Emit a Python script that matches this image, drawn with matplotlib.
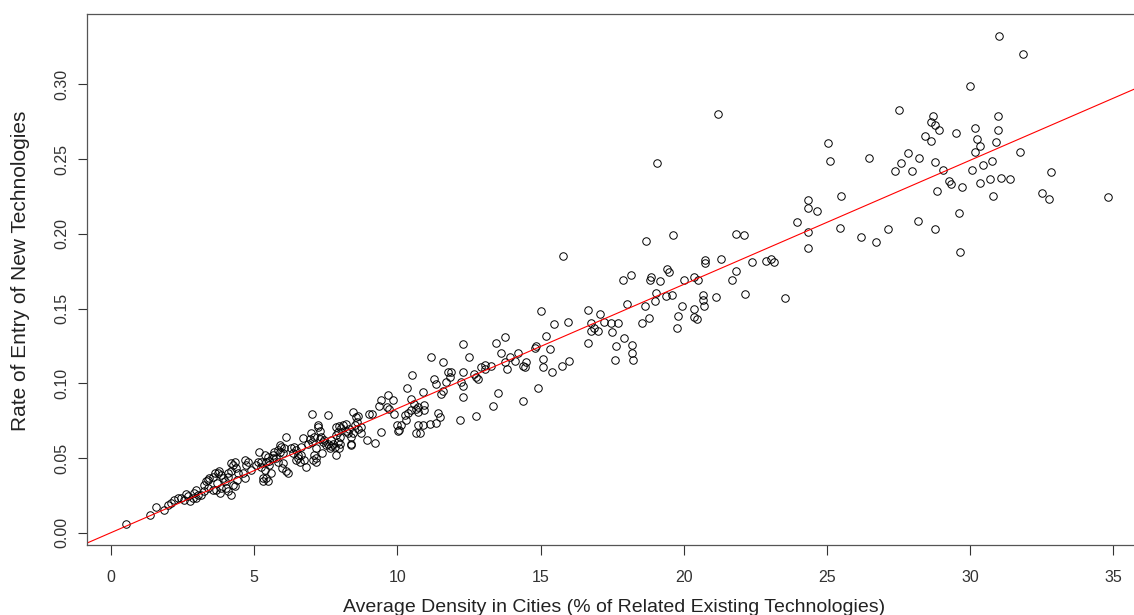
import numpy as np
import matplotlib
matplotlib.use("Agg")
import matplotlib.pyplot as plt

plt.rcParams['font.family'] = ['Liberation Sans', 'DejaVu Sans']

# density (% of related existing technologies) and entry rate
density = [
    0.51, 1.35, 1.56, 1.86, 1.98, 2.1, 2.21, 2.33, 2.45, 2.56, 2.63, 2.68, 2.74, 2.85, 2.91, 2.97, 2.98,
    3.03, 3.14, 3.26, 3.26, 3.32, 3.39, 3.39, 3.43, 3.55, 3.55, 3.61, 3.67, 3.68, 3.73, 3.78, 3.8, 3.84,
    3.84, 3.9, 3.96, 4.02, 4.07, 4.07, 4.09, 4.19, 4.19, 4.2, 4.25, 4.26, 4.31, 4.32, 4.37, 4.38, 4.42,
    4.6, 4.66, 4.66, 4.72, 4.77, 4.89, 5.06, 5.12, 5.18, 5.24, 5.24, 5.3, 5.3, 5.36, 5.36, 5.41, 5.41,
    5.47, 5.47, 5.53, 5.53, 5.6, 5.65, 5.65, 5.7, 5.76, 5.82, 5.82, 5.88, 5.88, 5.94, 5.95, 6.0, 6.0,
    6.05, 6.11, 6.11, 6.17, 6.29, 6.35, 6.4, 6.46, 6.46, 6.52, 6.52, 6.58, 6.64, 6.64, 6.7, 6.75, 6.81,
    6.87, 6.93, 6.99, 7.01, 7.01, 7.05, 7.1, 7.1,
    7.16, 7.16, 7.16, 7.22, 7.24, 7.28, 7.31, 7.33, 7.36, 7.39, 7.45, 7.51, 7.59, 7.59, 7.63, 7.68, 7.68,
    7.74, 7.82, 7.86, 7.86, 7.87, 7.92, 7.92, 7.97, 7.97, 7.98, 8.01, 8.09, 8.03, 8.21, 8.21, 8.27, 8.32,
    8.38, 8.38, 8.38, 8.44, 8.44, 8.5, 8.56, 8.59, 8.62, 8.62, 8.71, 8.73, 8.94, 9.02, 9.1, 9.22,
    9.34, 9.43, 9.43, 9.66, 9.64, 9.72, 9.84, 9.87, 9.99, 10.07, 10.01, 10.13, 10.3, 10.27, 10.36, 10.34,
    10.48, 10.48, 10.51, 10.59, 10.65, 10.71, 10.71, 10.65, 10.77, 10.71, 10.89, 10.89, 10.94, 10.94,
    11.12, 11.35, 11.47, 11.41, 11.18, 11.29, 11.35, 11.53, 11.59, 11.59, 11.7, 11.76, 11.82, 11.88,
    12.22, 12.28, 12.28, 12.28, 12.28, 12.51, 12.69, 12.75, 12.83, 12.92, 13.04, 13.27, 13.04, 12.75,
    12.17, 13.5, 13.33, 13.45, 13.74, 13.6, 13.74, 13.83, 13.92, 14.09, 14.2, 14.38, 14.44, 14.5, 14.39,
    14.79, 14.85, 14.92, 15.0, 15.08, 15.1, 15.18, 15.33, 15.39, 15.48, 15.74, 15.78, 15.95, 15.99,
    16.65, 16.66, 16.77, 16.88, 17.0, 16.77, 17.06, 17.23, 17.46, 17.72, 17.49, 17.9, 17.64, 18.19,
    18.19, 17.6, 18.22, 18.03, 18.63, 18.8, 18.55, 17.89, 18.17,
    18.69, 18.86, 18.83, 19.18, 19.4, 19.48, 19.06, 19.04, 19.0, 19.38, 19.59, 19.64, 19.93, 19.79,
    19.76, 20.02, 20.35, 20.51, 20.37, 20.37, 20.47, 20.66, 20.66, 20.69, 20.75, 20.75, 21.13, 21.19,
    21.29, 21.68, 21.83, 21.82, 22.09, 22.14, 22.39, 22.86, 23.03, 23.14, 23.53, 23.95,
    24.33, 24.33, 24.64, 24.33, 24.33, 25.05, 25.09, 25.49, 25.46, 26.2, 26.48, 26.72, 27.12, 27.36,
    27.5, 27.57, 27.84, 27.97, 28.17, 28.21, 28.44, 28.64, 28.64, 28.7, 28.76, 28.78, 28.79, 28.84,
    28.9, 29.05, 29.28, 29.34, 29.5, 29.62, 29.64, 29.73, 30.0, 30.06, 30.18, 30.18, 30.24, 30.33,
    30.36, 30.45, 30.68, 30.76, 30.8, 30.91, 30.97, 30.97, 31.0, 31.09, 31.38, 31.73, 31.85, 32.51,
    32.77, 32.81, 34.8,
]
entry_rate = [
    0.006, 0.0117, 0.017, 0.0155, 0.0188, 0.0199, 0.0221, 0.0232, 0.0232, 0.0221, 0.0259, 0.0243, 0.021,
    0.0232, 0.0265, 0.0287, 0.0232, 0.0254, 0.0254, 0.0277, 0.0321, 0.0343, 0.0354, 0.0299, 0.0365,
    0.0376, 0.0287, 0.0398, 0.0287, 0.0332, 0.0398, 0.041, 0.0265, 0.0387, 0.0299, 0.0365, 0.0343,
    0.0299, 0.0376, 0.0277, 0.0398, 0.041, 0.0254, 0.0464, 0.0453, 0.0321, 0.0476, 0.031, 0.0431,
    0.0354, 0.0398,
    0.0398, 0.0365, 0.0487, 0.0453, 0.0476, 0.042, 0.0453, 0.0476, 0.0542, 0.0476, 0.0442, 0.0365,
    0.0343, 0.052, 0.042, 0.0476, 0.0365, 0.0347, 0.0509, 0.0453, 0.048, 0.0398, 0.052, 0.0498, 0.0542,
    0.0498, 0.0553, 0.0476, 0.0586, 0.0542, 0.0575, 0.0431, 0.0531, 0.0464, 0.0564, 0.041, 0.0642,
    0.0398, 0.0564, 0.0531, 0.0575, 0.0553, 0.0487, 0.0498, 0.052, 0.0476, 0.052, 0.0575, 0.0631,
    0.0487, 0.0438, 0.0591, 0.0626, 0.0664, 0.0604, 0.0792, 0.0487, 0.0642, 0.052,
    0.0476, 0.0564, 0.0498, 0.0708, 0.0719, 0.068, 0.063, 0.0642, 0.0531, 0.0608, 0.0619, 0.0586,
    0.0785, 0.0591, 0.0564, 0.0619, 0.0582, 0.0597, 0.0575, 0.0708, 0.052, 0.0652, 0.0675, 0.0604,
    0.0712, 0.0564, 0.0642, 0.0591, 0.0719, 0.0701, 0.073, 0.0679, 0.0668, 0.0697, 0.0642, 0.0597,
    0.0586, 0.0808, 0.0664, 0.0719, 0.0774, 0.0741, 0.0697, 0.0781, 0.0668, 0.0708, 0.0619, 0.0797,
    0.0797, 0.0602,
    0.0845, 0.0885, 0.0675, 0.0922, 0.0841, 0.083, 0.0889, 0.0797, 0.0719, 0.069, 0.0681, 0.0719,
    0.0752, 0.0785, 0.0801, 0.0967, 0.0896, 0.0818, 0.1055, 0.0863, 0.083, 0.0841, 0.0808, 0.067,
    0.0664, 0.0719, 0.0723, 0.094, 0.0852, 0.0818, 0.073, 0.0737, 0.0774, 0.0803, 0.1173, 0.1029,
    0.0995, 0.0929, 0.0951, 0.1139, 0.1011, 0.1073, 0.104, 0.1077, 0.1007, 0.0985, 0.1077, 0.0906,
    0.1261, 0.1179, 0.1062, 0.104, 0.1029, 0.1106, 0.1122, 0.1117, 0.1095, 0.0781, 0.0752, 0.0936,
    0.0847, 0.1272, 0.1312, 0.1201, 0.1139, 0.1095, 0.1173, 0.115, 0.1201, 0.1113, 0.1106, 0.1139,
    0.0881,
    0.1234, 0.125, 0.0971, 0.1486, 0.1161, 0.1106, 0.1314, 0.1228, 0.1077, 0.1398, 0.1117, 0.1851,
    0.1411, 0.1146, 0.1267, 0.1488, 0.1405, 0.1371, 0.1349, 0.1349, 0.146, 0.1409, 0.1405, 0.1405,
    0.134, 0.1303, 0.125, 0.1256, 0.1201, 0.1157, 0.1157, 0.1533, 0.1515, 0.1438, 0.1405, 0.1692,
    0.1725,
    0.1953, 0.171, 0.1688, 0.1686, 0.1763, 0.1741, 0.2471, 0.1604, 0.1553, 0.1581, 0.159, 0.1991,
    0.1515, 0.1447, 0.1369, 0.1688, 0.1714, 0.1692, 0.1498, 0.1445, 0.1431, 0.1588, 0.1559, 0.1515,
    0.1825, 0.1807, 0.1575, 0.2798, 0.1832, 0.1692, 0.175, 0.1997, 0.1993, 0.1597, 0.1809, 0.1818,
    0.1829, 0.1814, 0.157, 0.2081,
    0.2223, 0.2175, 0.215, 0.2013, 0.1902, 0.2608, 0.2488, 0.225, 0.2039, 0.1977, 0.2504, 0.1946,
    0.2029, 0.242, 0.2825, 0.2473, 0.2541, 0.2422, 0.2086, 0.2504, 0.2654, 0.2747, 0.2621, 0.2787,
    0.273, 0.2029, 0.2477, 0.2285, 0.2697, 0.2425, 0.2356, 0.2334, 0.2674, 0.2137, 0.1876, 0.2314,
    0.299, 0.2427, 0.2705, 0.2544, 0.2634, 0.2588, 0.2338, 0.246, 0.2369, 0.2486, 0.2254, 0.2617,
    0.2787, 0.2692, 0.3325, 0.2376, 0.2367, 0.255, 0.320, 0.2274, 0.2234, 0.2411, 0.2245,
]
x_ticks = [0, 5, 10, 15, 20, 25, 30, 35]
y_ticks = [0.0, 0.05, 0.10, 0.15, 0.20, 0.25, 0.30]
y_tick_labels = ['0.00', '0.05', '0.10', '0.15', '0.20', '0.25', '0.30']

x = np.array(density)
y = np.array(entry_rate)

fig = plt.figure(figsize=(11.34, 6.15), dpi=100)
# the right side of the plot box runs off the picture in the original
ax = fig.add_axes([0.0763, 0.1138, 0.9357, 0.8634])

ax.plot(x, y, linestyle='none', marker='o', markersize=5.4,
        markerfacecolor='none', markeredgecolor='black', markeredgewidth=0.7)

# least squares line
slope, icept = np.polyfit(x, y, 1)
ax.axline((0, icept), slope=slope, color='red', lw=0.8)

ax.set_xlim(-0.86, 36.2)
ax.set_ylim(-0.0082, 0.347)
ax.set_xticks(x_ticks)
ax.set_yticks(y_ticks)
ax.set_yticklabels(y_tick_labels, rotation=90, va='center')
ax.tick_params(axis='x', direction='out', length=7.2, width=0.8, labelsize=11.5,
               colors='#333333', pad=11)
ax.tick_params(axis='y', direction='out', length=6.5, width=0.8, labelsize=11.5,
               colors='#333333', pad=5.5)
for s in ax.spines.values():
    s.set_color('#555555')
    s.set_linewidth(0.9)

ax.set_xlabel("Average Density in Cities (% of Related Existing Technologies)",
              fontsize=14, color='#222222')
ax.set_ylabel("Rate of Entry of New Technologies", fontsize=15, color='#222222')
ax.xaxis.set_label_coords(0.497, -0.1015)
ax.yaxis.set_label_coords(-0.053, 0.517)

fig.savefig("out.png", dpi=100)
